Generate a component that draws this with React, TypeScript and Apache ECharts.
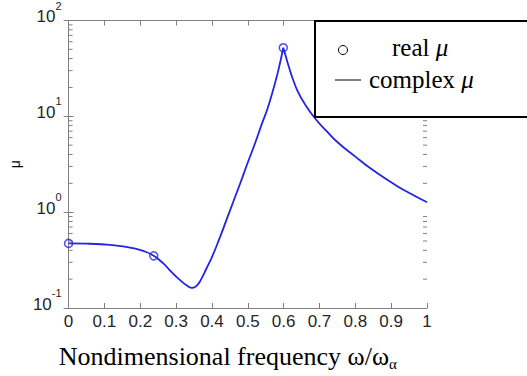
import React, { useEffect, useRef } from "react";
import * as echarts from "echarts";

// Rising branch (0 -> resonance peak)
const freqRise = [0, 0.05, 0.1, 0.14, 0.175, 0.21, 0.2375, 0.265, 0.286, 0.308, 0.33, 0.345, 0.357, 0.37, 0.385, 0.4, 0.42, 0.44, 0.46, 0.48, 0.5, 0.52, 0.54, 0.555, 0.57, 0.585, 0.599];
const muRise = [0.472, 0.469, 0.46, 0.446, 0.425, 0.392, 0.35, 0.29, 0.24, 0.2, 0.172, 0.162, 0.17, 0.2, 0.26, 0.34, 0.52, 0.82, 1.3, 2.05, 3.3, 5.2, 8.5, 12, 18.5, 30, 52];
// Falling branch (peak -> 1)
const freqFall = [0.599, 0.607, 0.615, 0.625, 0.64, 0.66, 0.688, 0.72, 0.752, 0.8, 0.843, 0.9, 0.934, 1.0];
const muFall = [52, 41, 32.5, 25, 18, 13.3, 9.5, 7.0, 5.3, 3.8, 2.85, 2.05, 1.71, 1.27];
// Real mu points (circles)
const realFreq = [0, 0.2375, 0.599];
const realMu = [0.472, 0.35, 52];
// Log minor ticks
const minorTicks = [0.2, 0.3, 0.4, 0.5, 0.6, 0.7, 0.8, 0.9, 2, 3, 4, 5, 6, 7, 8, 9, 20, 30, 40, 50, 60, 70, 80, 90];

const xName = "Nondimensional frequency ω/ω";
const xNameSub = "α";
const yName = "μ";
const legendReal = "real ";
const legendComplex = "complex ";
const legendSym = "μ";

const BLUE = "#2424e2";
const AXIS = "#808080";
const LABEL = "#262626";
const SANS = "'Liberation Sans', Arial, sans-serif";
const SERIF = "'Liberation Serif', 'Times New Roman', serif";

export default function App() {
  const ref = useRef<HTMLDivElement>(null);
  useEffect(() => {
    if (!ref.current) return;
    const chart = echarts.init(ref.current, undefined, { renderer: "svg" });
    const zip = (a: number[], b: number[]) => a.map((v, i) => [v, b[i]]);
    const xBase = {
      type: "value" as const,
      min: 0,
      max: 1,
      interval: 0.1,
      splitLine: { show: false },
      axisLine: { show: true, lineStyle: { color: AXIS, width: 1 } },
      axisTick: { show: true, inside: true, length: 5, lineStyle: { color: AXIS } },
    };
    const yBase = {
      type: "log" as const,
      logBase: 10,
      min: 0.1,
      max: 100,
      splitLine: { show: false },
      axisLine: { show: true, lineStyle: { color: AXIS, width: 1 } },
      axisTick: { show: true, inside: true, length: 5, lineStyle: { color: AXIS } },
    };
    chart.setOption({
      animation: false,
      grid: { left: 62, right: 100, top: 19, bottom: 66, containLabel: false },
      xAxis: [
        {
          ...xBase,
          position: "bottom",
          axisLabel: {
            fontFamily: SANS,
            fontSize: 17,
            color: LABEL,
            margin: 5,
            formatter: (v: number) => String(+v.toFixed(1)),
          },
          name: `{n|${xName}}{s|${xNameSub}}`,
          nameLocation: "middle",
          nameGap: 33,
          nameTextStyle: {
            padding: [0, 40, 0, 0],
            rich: {
              n: { fontFamily: SERIF, fontSize: 26, color: "#000", lineHeight: 30, verticalAlign: "middle" },
              s: { fontFamily: SERIF, fontSize: 15, color: "#000", lineHeight: 15, verticalAlign: "bottom" },
            },
          },
        },
        { ...xBase, position: "top", axisLabel: { show: false } },
      ],
      yAxis: [
        {
          ...yBase,
          position: "left",
          axisLabel: {
            margin: 7,
            padding: [0, 0, 8, 0],
            formatter: (v: number) => `{b|10}{s|${Math.round(Math.log10(v))}}`,
            rich: {
              b: { fontFamily: SANS, fontSize: 17, color: LABEL, lineHeight: 17, verticalAlign: "bottom" },
              s: { fontFamily: SANS, fontSize: 11, color: LABEL, lineHeight: 11, padding: [0, 0, 14, 0], verticalAlign: "bottom" },
            },
          },
          name: yName,
          nameLocation: "middle",
          nameGap: 40,
          nameTextStyle: { fontFamily: SANS, fontSize: 14, color: "#000" },
        },
        { ...yBase, position: "right", axisLabel: { show: false } },
      ],
      series: [
        {
          type: "line",
          data: zip(freqRise, muRise),
          smooth: 0.5,
          showSymbol: false,
          lineStyle: { color: BLUE, width: 1.8 },
          itemStyle: { color: BLUE },
          z: 3,
        },
        {
          type: "line",
          data: zip(freqFall, muFall),
          smooth: 0.5,
          showSymbol: false,
          lineStyle: { color: BLUE, width: 1.8 },
          itemStyle: { color: BLUE },
          z: 3,
        },
        {
          type: "scatter",
          data: zip(realFreq, realMu),
          symbol: "circle",
          symbolSize: 8,
          itemStyle: { color: "transparent", borderColor: BLUE, borderWidth: 1.5 },
          z: 4,
        },
        {
          type: "custom",
          data: minorTicks.map((v) => [0, v]),
          encode: { x: 0, y: 1 },
          clip: false,
          silent: true,
          renderItem: (_p: any, api: any) => {
            const v = api.value(1);
            const l = api.coord([0, v]);
            const r = api.coord([1, v]);
            const st = { stroke: AXIS, lineWidth: 1 };
            return {
              type: "group",
              children: [
                { type: "line", shape: { x1: l[0], y1: l[1], x2: l[0] + 4, y2: l[1] }, style: st },
                { type: "line", shape: { x1: r[0] - 4, y1: r[1], x2: r[0], y2: r[1] }, style: st },
              ],
            };
          },
          z: 1,
        },
      ],
      graphic: [
        {
          type: "rect",
          z: 100,
          shape: { x: 315, y: 21, width: 240, height: 96 },
          style: { fill: "#fff", stroke: "#000", lineWidth: 2 },
        },
        {
          type: "circle",
          z: 101,
          shape: { cx: 343, cy: 50, r: 4.5 },
          style: { fill: "none", stroke: "#000", lineWidth: 1 },
        },
        {
          type: "line",
          z: 101,
          shape: { x1: 335, y1: 80, x2: 361, y2: 80 },
          style: { stroke: "#000", lineWidth: 1 },
        },
        {
          type: "text",
          z: 101,
          x: 392,
          y: 47,
          style: {
            text: `{n|${legendReal}}{i|${legendSym}}`,
            verticalAlign: "middle",
            rich: {
              n: { fontFamily: SERIF, fontSize: 25, fill: "#000" },
              i: { fontFamily: SERIF, fontSize: 25, fontStyle: "italic", fill: "#000" },
            },
          },
        },
        {
          type: "text",
          z: 101,
          x: 369,
          y: 79,
          style: {
            text: `{n|${legendComplex}}{i|${legendSym}}`,
            verticalAlign: "middle",
            rich: {
              n: { fontFamily: SERIF, fontSize: 25, fill: "#000" },
              i: { fontFamily: SERIF, fontSize: 25, fontStyle: "italic", fill: "#000" },
            },
          },
        },
      ],
    });
    return () => chart.dispose();
  }, []);
  return (
    <div
      ref={ref}
      style={{ position: "absolute", left: 0, top: 0, width: 527, height: 376, background: "#fff" }}
    />
  );
}
